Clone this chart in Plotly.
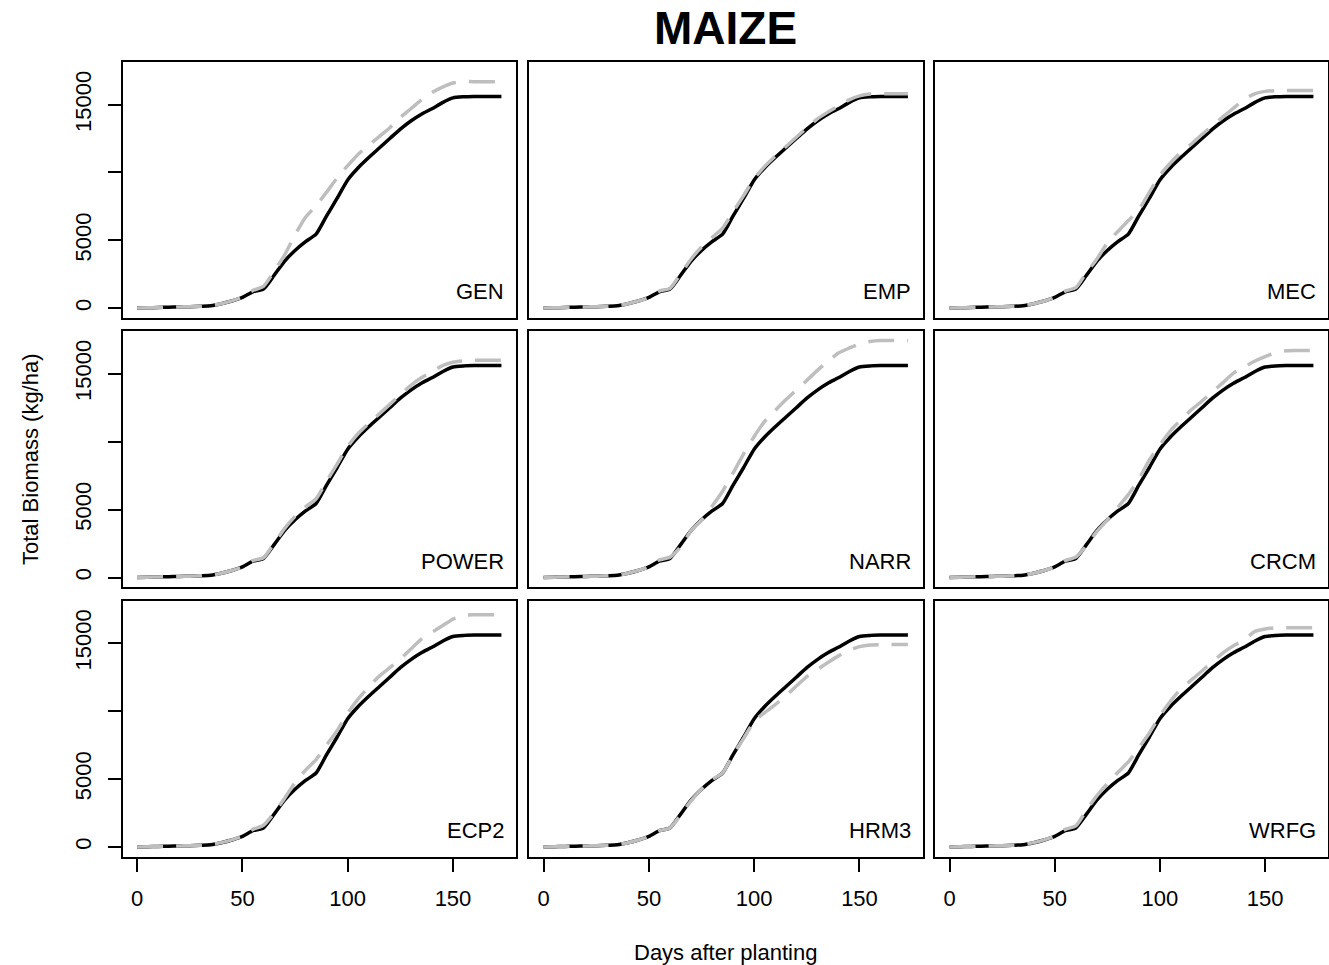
import plotly.graph_objects as go

# ---------------- data ----------------
days = [0, 5, 10, 15, 20, 25, 30, 35, 40, 45, 50, 55, 60, 65, 70, 75, 80, 85, 90,
        95, 100, 105, 110, 115, 120, 125, 130, 135, 140, 145, 150, 155, 160, 165, 170, 173]

# common reference simulation (black solid line)
baseline = [0, 20, 40, 60, 80, 100, 130, 170, 320, 520, 780,
            1200, 1400, 2400, 3450, 4250, 4900, 5450, 6800, 8100, 9450, 10350, 11100,
            11800, 12500, 13200, 13800, 14300, 14700, 15150, 15500, 15580, 15600, 15600,
            15600, 15600]

panel_names = ["GEN", "EMP", "MEC", "POWER", "NARR", "CRCM", "ECP2", "HRM3", "WRFG"]

gen = [0, 20, 40, 60, 80, 100, 130, 170, 320, 530, 800,
       1300, 1600, 2700, 3900, 5400, 6700, 7550, 8550, 9600, 10500, 11350, 12000,
       12650, 13300, 14050, 14700, 15350, 15900, 16300, 16600, 16700, 16700, 16700,
       16700, 16700]
emp = [0, 20, 40, 60, 80, 100, 130, 170, 320, 520, 780,
       1250, 1450, 2500, 3600, 4500, 5200, 5900, 7100, 8300, 9550, 10450, 11200,
       11900, 12600, 13300, 13950, 14450, 14900, 15350, 15650, 15780, 15800, 15800,
       15800, 15800]
mec = [0, 20, 40, 60, 80, 100, 130, 170, 320, 520, 790,
       1250, 1500, 2600, 3600, 4800, 5650, 6450, 7250, 8550, 9800, 10700, 11500,
       12100, 12800, 13450, 14100, 14750, 15380, 15800, 15980, 16040, 16040, 16040,
       16040, 16040]
power = [0, 20, 40, 60, 80, 100, 130, 170, 320, 520, 780,
         1250, 1450, 2500, 3600, 4500, 5200, 5800, 7100, 8350, 9650, 10600, 11350,
         12050, 12750, 13450, 14150, 14700, 15150, 15600, 15850, 15950, 16000, 16000,
         16000, 16000]
narr = [0, 20, 40, 60, 80, 100, 130, 170, 320, 520, 790,
        1300, 1500, 2250, 3450, 4250, 5250, 6350, 7700, 9100, 10380, 11500, 12300,
        13080, 13800, 14510, 15250, 15900, 16520, 16880, 17200, 17380, 17450, 17450,
        17450, 17450]
crcm = [0, 20, 40, 60, 80, 100, 130, 170, 320, 520, 780,
        1250, 1500, 2350, 3380, 4250, 5170, 6100, 7240, 8650, 9770, 10800, 11600,
        12350, 12990, 13660, 14350, 15050, 15490, 15920, 16260, 16550, 16700, 16720,
        16720, 16720]
ecp2 = [0, 20, 40, 60, 80, 100, 130, 170, 320, 530, 800,
        1300, 1600, 2500, 3580, 4750, 5660, 6440, 7520, 8560, 9850, 10900, 11790,
        12580, 13200, 13840, 14570, 15300, 15800, 16290, 16780, 17050, 17100, 17100,
        17100, 17100]
hrm3 = [0, 20, 40, 60, 80, 100, 130, 170, 320, 520, 780,
        1200, 1400, 2350, 3400, 4250, 4950, 5450, 6800, 8000, 9250, 9900, 10480,
        11130, 11850, 12550, 13070, 13580, 14070, 14470, 14750, 14880, 14900, 14900,
        14900, 14900]
wrfg = [0, 20, 40, 60, 80, 100, 130, 170, 320, 530, 800,
        1300, 1550, 2700, 3770, 4660, 5490, 6270, 7320, 8400, 9660, 10720, 11650,
        12300, 12960, 13630, 14300, 14820, 15230, 15860, 16050, 16140, 16150, 16150,
        16150, 16150]

panel_series = [gen, emp, mec, power, narr, crcm, ecp2, hrm3, wrfg]

x_ticks = [0, 50, 100, 150]
y_ticks = [0, 5000, 10000, 15000]
y_tick_labels = ["0", "5000", "", "15000"]

title_text = "MAIZE"
x_title = "Days after planting"
y_title = "Total Biomass (kg/ha)"

# ---------------- layout geometry (pixels) ----------------
W, H = 1329, 965
col_px = [(122.5, 516.0), (529.0, 922.5), (935.0, 1328.0)]
row_px = [(62.0, 317.5), (331.0, 587.0), (600.5, 856.5)]

FONT = "Liberation Sans, Arial, Helvetica, sans-serif"
GRAY = "#BEBEBE"
FS = 22

xmax = max(days)
ymax = max(max(s) for s in panel_series + [baseline])
xr = [0 - 0.04 * xmax, xmax * 1.04]
yr = [-0.04 * ymax, ymax * 1.04]

fig = go.Figure()
layout = {}
annotations = []

for i, (name, series) in enumerate(zip(panel_names, panel_series)):
    r, c = divmod(i, 3)
    k = i + 1
    xa = "x" if k == 1 else f"x{k}"
    ya = "y" if k == 1 else f"y{k}"
    xkey = "xaxis" if k == 1 else f"xaxis{k}"
    ykey = "yaxis" if k == 1 else f"yaxis{k}"

    fig.add_trace(go.Scatter(x=days, y=baseline, mode="lines", xaxis=xa, yaxis=ya,
                             line=dict(color="black", width=3.5, shape="spline",
                                       smoothing=0.6),
                             showlegend=False, hoverinfo="skip"))
    fig.add_trace(go.Scatter(x=days, y=series, mode="lines", xaxis=xa, yaxis=ya,
                             line=dict(color=GRAY, width=3.5, dash="26px,13px",
                                       shape="spline", smoothing=0.6),
                             showlegend=False, hoverinfo="skip"))

    x0, x1 = col_px[c]
    y0, y1 = row_px[r]
    bottom_row = (r == 2)
    left_col = (c == 0)
    layout[xkey] = dict(
        domain=[x0 / W, x1 / W], range=xr, anchor=ya,
        showgrid=False, zeroline=False,
        showline=True, mirror=True, linecolor="black", linewidth=2,
        tickmode="array", tickvals=x_ticks,
        ticks="outside" if bottom_row else "", ticklen=13, tickwidth=2, tickcolor="black",
        showticklabels=bottom_row, ticklabelstandoff=8,
        tickfont=dict(family=FONT, size=FS, color="black"),
        fixedrange=True,
    )
    layout[ykey] = dict(
        domain=[(H - y1) / H, (H - y0) / H], range=yr, anchor=xa,
        showgrid=False, zeroline=False,
        showline=True, mirror=True, linecolor="black", linewidth=2,
        tickmode="array", tickvals=y_ticks, ticktext=y_tick_labels,
        ticks="outside" if left_col else "", ticklen=13, tickwidth=2, tickcolor="black",
        showticklabels=left_col, tickangle=-90, ticklabelstandoff=8,
        tickfont=dict(family=FONT, size=FS, color="black"),
        fixedrange=True,
    )
    annotations.append(dict(
        text=name, xref=f"{xa} domain", yref=f"{ya} domain", x=1, y=0,
        xanchor="right", yanchor="middle", xshift=-10, yshift=26, showarrow=False,
        font=dict(family=FONT, size=FS, color="black")))

annotations.append(dict(text="<b>" + title_text + "</b>", xref="paper", yref="paper",
                        x=725 / W, y=(H - 28) / H, xanchor="center", yanchor="middle",
                        showarrow=False, font=dict(family=FONT, size=46, color="black")))
annotations.append(dict(text=x_title, xref="paper", yref="paper",
                        x=725 / W, y=(H - 952) / H, xanchor="center", yanchor="middle",
                        showarrow=False, font=dict(family=FONT, size=FS, color="black")))
annotations.append(dict(text=y_title, xref="paper", yref="paper", textangle=-90,
                        x=30 / W, y=(H - 459) / H, xanchor="center", yanchor="middle",
                        showarrow=False, font=dict(family=FONT, size=FS, color="black")))

fig.update_layout(
    width=W, height=H,
    margin=dict(l=0, r=0, t=0, b=0, autoexpand=False),
    paper_bgcolor="white", plot_bgcolor="white",
    annotations=annotations,
    showlegend=False,
    **layout,
)

fig.write_html("out.html", config={"displayModeBar": False})
